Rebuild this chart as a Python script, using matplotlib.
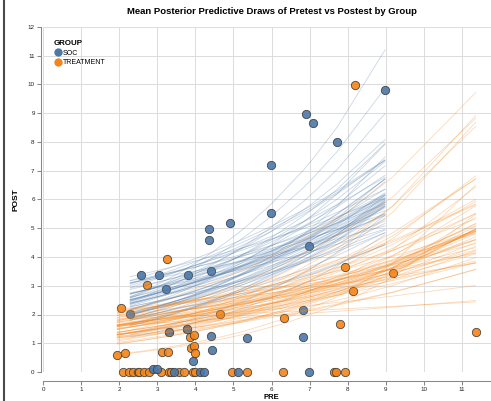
import numpy as np
import matplotlib
matplotlib.use('Agg')
import matplotlib.pyplot as plt
from matplotlib.lines import Line2D

plt.rcParams['font.family'] = ['Liberation Sans', 'DejaVu Sans']

SOC_COLOR = '#4c78a8'
TRT_COLOR = '#f58518'

soc_pre = [8.98, 6.90, 7.10, 7.73, 5.98, 5.98, 4.90, 4.35, 4.35, 4.42, 6.99,
           2.58, 3.04, 3.80, 3.22, 2.29, 6.82, 6.82, 5.36, 4.41, 4.45, 3.95,
           3.32, 3.78, 2.89, 3.00, 3.45, 4.12, 4.23, 5.12, 6.99]
soc_post = [9.81, 8.97, 8.67, 7.99, 7.19, 5.53, 5.18, 4.99, 4.58, 3.52, 4.39,
            3.36, 3.38, 3.36, 2.88, 2.02, 2.16, 1.23, 1.19, 1.24, 0.75, 0.40,
            1.39, 1.48, 0.12, 0.10, 0.0, 0.0, 0.0, 0.0, 0.0]

trt_pre = [8.18, 9.19, 7.94, 8.13, 7.79, 11.36, 6.32, 4.66, 3.25, 2.72, 2.06,
           1.95, 2.16, 3.12, 3.29, 3.86, 3.96, 3.88, 3.96, 3.99, 3.32, 3.78,
           2.10, 2.27, 2.37, 2.49, 2.52, 2.65, 2.79, 3.09, 3.31, 3.35, 3.57,
           3.71, 3.95, 3.98, 4.97, 5.35, 6.31, 7.65, 7.69, 7.94]
trt_post = [9.98, 3.45, 3.64, 2.82, 1.66, 1.39, 1.88, 2.02, 3.94, 3.01, 2.21,
            0.60, 0.65, 0.71, 0.69, 1.22, 1.30, 0.84, 0.90, 0.66, 1.39, 1.48,
            0, 0, 0, 0, 0, 0, 0, 0, 0, 0, 0, 0, 0, 0, 0, 0, 0, 0, 0, 0]

# posterior draws: log mean at centred PRE and slope (log link)
SOC_CENTER = 5.65
soc_logmean = [1.33, 1.41, 1.25, 1.49, 1.18, 1.36, 1.29, 1.45, 1.12, 1.39,
               1.27, 1.53, 1.31, 1.22, 1.43, 1.15, 1.37, 1.47, 1.20, 1.30,
               1.58, 1.10, 1.35, 1.42, 1.24, 1.38, 1.32, 1.06, 1.46, 1.33,
               1.21, 1.51, 1.28, 1.40, 1.14, 1.36, 1.30, 1.44, 1.56, 1.19,
               1.31, 1.42, 1.04, 1.38, 0.88, 1.48, 1.34, 1.17, 1.69, 1.62,
               1.40, 1.23, 1.35, 0.98, 1.50, 1.29, 1.54, 1.21, 1.37, 1.55]
soc_slope = [0.140, 0.122, 0.161, 0.108, 0.176, 0.133, 0.150, 0.094, 0.190, 0.138,
             0.117, 0.168, 0.130, 0.147, 0.082, 0.200, 0.135, 0.156, 0.113, 0.182,
             0.126, 0.144, 0.103, 0.165, 0.153, 0.074, 0.208, 0.129, 0.139, 0.111,
             0.172, 0.121, 0.149, 0.098, 0.186, 0.136, 0.159, 0.115, 0.131, 0.145,
             0.088, 0.195, 0.134, 0.157, 0.205, 0.178, 0.124, 0.142, 0.218, 0.201,
             0.119, 0.163, 0.128, 0.215, 0.090, 0.180, 0.137, 0.116, 0.160, 0.194]

TRT_CENTER = 6.67
trt_logmean = [1.00, 1.08, 0.93, 1.16, 0.86, 1.03, 0.96, 1.12, 0.80, 1.06,
               0.94, 1.20, 0.99, 0.89, 1.10, 0.83, 1.04, 1.14, 0.88, 0.98,
               1.24, 0.78, 1.02, 1.09, 0.91, 1.05, 0.97, 0.74, 1.13, 1.00,
               0.90, 1.18, 0.95, 1.07, 0.82, 1.03, 0.98, 1.11, 1.22, 0.87,
               0.99, 1.09, 0.72, 1.05, 0.93, 1.15, 1.01, 0.85, 0.75, 0.70,
               0.82, 1.50, 1.38, 1.25, 1.20, 1.30, 0.60, 0.70, 1.06, 0.96]
trt_slope = [0.125, 0.108, 0.143, 0.092, 0.158, 0.117, 0.134, 0.080, 0.172, 0.121,
             0.101, 0.150, 0.114, 0.131, 0.068, 0.182, 0.119, 0.139, 0.097, 0.165,
             0.112, 0.128, 0.087, 0.147, 0.136, 0.060, 0.190, 0.113, 0.123, 0.095,
             0.154, 0.105, 0.132, 0.084, 0.168, 0.120, 0.141, 0.099, 0.115, 0.129,
             0.074, 0.177, 0.118, 0.140, 0.090, 0.161, 0.110, 0.126, 0.030, 0.045,
             0.060, 0.165, 0.170, 0.200, 0.205, 0.180, 0.235, 0.250, 0.100, 0.145]

W, H = 491, 401
fig = plt.figure(figsize=(W / 100, H / 100), dpi=100)
# x domain 0..12, right part falls outside the picture like the reference
ax = fig.add_axes([43 / W, (H - 372) / H, 457 / W, 345 / H])

ax.scatter(soc_pre, soc_post, s=36, color=SOC_COLOR, edgecolor='#3a3a3a',
           linewidth=0.6, alpha=0.9, zorder=3, clip_on=False)
ax.scatter(trt_pre, trt_post, s=36, color=TRT_COLOR, edgecolor='#3a3a3a',
           linewidth=0.6, alpha=0.9, zorder=2, clip_on=False)

xs_soc = np.unique(soc_pre)
for a, b in zip(soc_logmean, soc_slope):
    ax.plot(xs_soc, np.exp(a + b * (xs_soc - SOC_CENTER)), color=SOC_COLOR,
            lw=0.6, alpha=0.3, zorder=4)
xs_trt = np.unique(trt_pre)
for a, b in zip(trt_logmean, trt_slope):
    ax.plot(xs_trt, np.exp(a + b * (xs_trt - TRT_CENTER)), color=TRT_COLOR,
            lw=0.6, alpha=0.3, zorder=4)

ax.set_xlim(0, 12)
ax.set_ylim(0, 12)
ax.set_xticks(range(0, 12))
ax.set_yticks(range(0, 13))
ax.grid(True, color='#dddddd', lw=0.75)
ax.set_axisbelow(True)
for s in ['top', 'right']:
    ax.spines[s].set_visible(False)
ax.spines['bottom'].set_position(('outward', 6.5))
ax.spines['left'].set_position(('outward', 1.5))
for s in ['bottom', 'left']:
    ax.spines[s].set_color('#888888')
    ax.spines[s].set_linewidth(0.75)
ax.tick_params(length=3, width=0.75, color='#888888', labelsize=4.5,
               labelcolor='#222222', pad=1.5)

ax.set_xlabel('PRE', fontsize=5.5, fontweight='bold', va='bottom')
ax.xaxis.set_label_coords(0.5, -(401 - 372) / 345)
ax.set_ylabel('POST', fontsize=6, fontweight='bold', labelpad=6)
ax.set_title('Mean Posterior Predictive Draws of Pretest vs Postest by Group',
             fontsize=6.8, fontweight='bold', pad=9)

handles = [Line2D([], [], marker='o', ls='', markersize=6, color=SOC_COLOR,
                  markeredgewidth=0, label='SOC'),
           Line2D([], [], marker='o', ls='', markersize=6, color=TRT_COLOR,
                  markeredgewidth=0, label='TREATMENT')]
leg = ax.legend(handles=handles, title='GROUP', loc='upper left',
                bbox_to_anchor=(50 / W, 1 - 37 / H), bbox_transform=fig.transFigure,
                frameon=False, fontsize=5, title_fontsize=5.7,
                handletextpad=0.1, labelspacing=0.35, borderpad=0, handlelength=1.2)
leg.get_title().set_fontweight('bold')
leg._legend_box.align = 'left'

# dark frame edge on the left of the screenshot
fig.add_artist(Line2D([4.3 / W, 4.3 / W], [0, 1], transform=fig.transFigure,
                      color='#4a4a4a', lw=1.5))

fig.savefig('out.png', dpi=100)
